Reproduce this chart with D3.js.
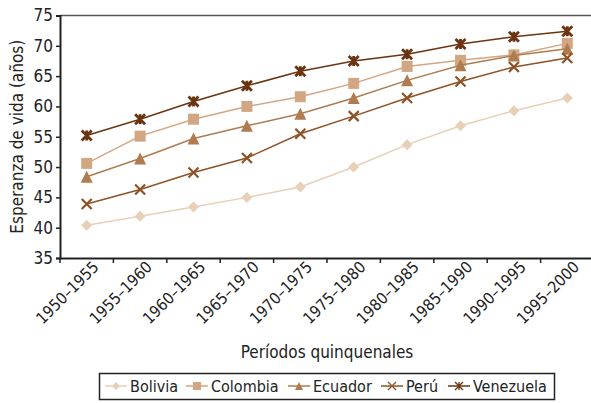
<!DOCTYPE html>
<html>
<head>
<meta charset="utf-8">
<script src="https://cdn.jsdelivr.net/npm/d3@7"></script>
<style>
  body { margin: 0; background: #fff; }
  text { font-family: "DejaVu Sans Condensed", "Liberation Sans Narrow", sans-serif; font-stretch: condensed; fill: #222; }
</style>
</head>
<body>
<svg id="chart" width="591" height="403"></svg>
<script>
var periods = ["1950–1955","1955–1960","1960–1965","1965–1970","1970–1975",
               "1975–1980","1980–1985","1985–1990","1990–1995","1995–2000"];
var countries = ["Bolivia","Colombia","Ecuador","Perú","Venezuela"];
var bolivia   = [40.4, 41.9, 43.4, 45.0, 46.7, 50.0, 53.7, 56.8, 59.3, 61.4];
var colombia  = [50.6, 55.1, 57.9, 60.0, 61.6, 63.8, 66.6, 67.6, 68.5, 70.4];
var ecuador   = [48.4, 51.4, 54.7, 56.8, 58.8, 61.4, 64.3, 66.8, 68.4, 69.5];
var peru      = [43.9, 46.3, 49.1, 51.5, 55.5, 58.4, 61.4, 64.1, 66.5, 68.0];
var venezuela = [55.2, 57.9, 60.8, 63.4, 65.8, 67.5, 68.6, 70.3, 71.5, 72.4];
var yTicks = [35, 40, 45, 50, 55, 60, 65, 70, 75];

var colors = ["#e8d0b8", "#d3a683", "#b07b4e", "#8e5226", "#6b3410"];
var symbols = ["diamond", "square", "triangle", "x", "star"];
var seriesList = [bolivia, colombia, ecuador, peru, venezuela];

var svg = d3.select("#chart");
var plotLeft = 60, plotRight = 594, plotTop = 15.5, plotBottom = 258;

var xScale = d3.scaleBand().domain(periods).range([plotLeft, plotRight]);
var yScale = d3.scaleLinear().domain([35, 75]).range([plotBottom, plotTop]);

// top frame line
svg.append("line")
  .attr("x1", plotLeft).attr("x2", 591)
  .attr("y1", yScale(75)).attr("y2", yScale(75))
  .attr("stroke", "#555").attr("stroke-width", 1.5);

// y axis
var yAxis = svg.append("g")
  .attr("transform", "translate(" + plotLeft + ",0)")
  .call(d3.axisLeft(yScale).tickValues(yTicks).tickSize(4).tickPadding(3));
yAxis.select(".domain").attr("stroke", "#222").attr("stroke-width", 2);
yAxis.selectAll(".tick line").attr("stroke", "#222").attr("stroke-width", 1.5);
yAxis.selectAll("text").attr("font-size", 17).style("fill", "#222");

// x axis
var xAxis = svg.append("g")
  .attr("transform", "translate(0," + plotBottom + ")")
  .call(d3.axisBottom(xScale).tickSize(0).tickSizeOuter(0));
xAxis.select(".domain").attr("stroke", "#222").attr("stroke-width", 2);
xAxis.selectAll(".tick text")
  .attr("font-size", 16)
  .attr("text-anchor", "end")
  .attr("x", 0).attr("y", 0).attr("dy", 0)
  .attr("transform", "translate(13,10) rotate(-45)")
  .style("fill", "#222");
// tick marks between categories
xAxis.selectAll(".bound")
  .data(periods)
  .enter().append("line")
  .attr("x1", function(d) { return xScale(d); })
  .attr("x2", function(d) { return xScale(d); })
  .attr("y1", 0).attr("y2", 5)
  .attr("stroke", "#222").attr("stroke-width", 1.5);

// titles
svg.append("text")
  .attr("transform", "translate(23," + ((plotTop + plotBottom) / 2) + ") rotate(-90)")
  .attr("text-anchor", "middle")
  .attr("font-size", 17)
  .text("Esperanza de vida (años)");

svg.append("text")
  .attr("x", 327).attr("y", 358)
  .attr("text-anchor", "middle")
  .attr("font-size", 17)
  .text("Períodos quinquenales");

function symbolPath(kind, size) {
  var s = size;
  if (kind === "diamond") return "M0," + (-s) + "L" + s + ",0L0," + s + "L" + (-s) + ",0Z";
  if (kind === "square") return "M" + (-s) + "," + (-s) + "h" + 2 * s + "v" + 2 * s + "h" + (-2 * s) + "Z";
  if (kind === "triangle") return "M0," + (-s) + "L" + s + "," + s + "L" + (-s) + "," + s + "Z";
  if (kind === "x") return "M" + (-s) + "," + (-s) + "L" + s + "," + s + "M" + (-s) + "," + s + "L" + s + "," + (-s);
  return "M" + (-s) + "," + (-s) + "L" + s + "," + s + "M" + (-s) + "," + s + "L" + s + "," + (-s) +
         "M0," + (-s) + "L0," + s;
}

function drawMarker(g, kind, color, size, sw) {
  var p = g.append("path").attr("d", symbolPath(kind, size));
  if (kind === "x" || kind === "star") {
    p.attr("fill", "none").attr("stroke", color).attr("stroke-width", sw);
  } else {
    p.attr("fill", color);
  }
}

var line = d3.line()
  .x(function(d, i) { return xScale(periods[i]) + xScale.bandwidth() / 2; })
  .y(function(d) { return yScale(d); });

var sizes = [5.5, 5.5, 6, 5, 5];
seriesList.forEach(function(vals, k) {
  var g = svg.append("g");
  g.append("path")
    .datum(vals)
    .attr("d", line)
    .attr("fill", "none")
    .attr("stroke", colors[k])
    .attr("stroke-width", 1.5);
  vals.forEach(function(v, i) {
    var m = g.append("g")
      .attr("transform", "translate(" + (xScale(periods[i]) + xScale.bandwidth() / 2) + "," + yScale(v) + ")");
    drawMarker(m, symbols[k], colors[k], sizes[k], k === 4 ? 2.8 : 2.2);
  });
});

// legend
var legend = svg.append("g");
legend.append("rect")
  .attr("x", 99.5).attr("y", 373.5).attr("width", 455).attr("height", 26)
  .attr("fill", "#fff").attr("stroke", "#222").attr("stroke-width", 1.5);
var legendX = [105, 186, 288, 381, 448];
countries.forEach(function(c, k) {
  var g = legend.append("g").attr("transform", "translate(" + legendX[k] + ",386)");
  g.append("line").attr("x1", 0).attr("x2", 22).attr("stroke", colors[k]).attr("stroke-width", 1.5);
  var m = g.append("g").attr("transform", "translate(11,0)");
  drawMarker(m, symbols[k], colors[k], 4, 1.3);
  g.append("text").attr("x", 25).attr("y", 5.5).attr("font-size", 16).text(c);
});
</script>
</body>
</html>
